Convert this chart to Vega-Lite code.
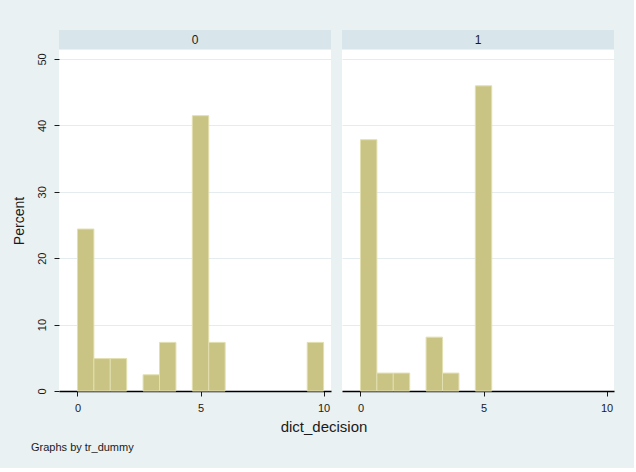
{
  "$schema": "https://vega.github.io/schema/vega-lite/v6.json",
  "background": "#e9f1f3",
  "padding": {"left": 12, "top": 30, "right": 20, "bottom": 15},
  "config": {
    "font": "Liberation Sans",
    "view": {"fill": "white", "stroke": null},
    "axis": {
      "labelFont": "Liberation Sans",
      "titleFont": "Liberation Sans",
      "labelFontSize": 11,
      "labelColor": "#1a1a1a",
      "tickColor": "#1a1a1a",
      "domainColor": "#000000",
      "gridColor": "#e4ecef",
      "titleFontWeight": "normal",
      "titleColor": "#1a1a1a"
    }
  },
  "datasets": {
    "bins": [
      {"tr_dummy": "0", "decision": 0, "bin_lo": 0, "bin_hi": 0.6667, "percent": 24.39},
      {"tr_dummy": "0", "decision": 1, "bin_lo": 0.6667, "bin_hi": 1.3333, "percent": 4.88},
      {"tr_dummy": "0", "decision": 2, "bin_lo": 1.3333, "bin_hi": 2, "percent": 4.88},
      {"tr_dummy": "0", "decision": 3, "bin_lo": 2.6667, "bin_hi": 3.3333, "percent": 2.44},
      {"tr_dummy": "0", "decision": 4, "bin_lo": 3.3333, "bin_hi": 4, "percent": 7.32},
      {"tr_dummy": "0", "decision": 5, "bin_lo": 4.6667, "bin_hi": 5.3333, "percent": 41.46},
      {"tr_dummy": "0", "decision": 6, "bin_lo": 5.3333, "bin_hi": 6, "percent": 7.32},
      {"tr_dummy": "0", "decision": 10, "bin_lo": 9.3333, "bin_hi": 10, "percent": 7.32},
      {"tr_dummy": "1", "decision": 0, "bin_lo": 0, "bin_hi": 0.6667, "percent": 37.84},
      {"tr_dummy": "1", "decision": 1, "bin_lo": 0.6667, "bin_hi": 1.3333, "percent": 2.70},
      {"tr_dummy": "1", "decision": 2, "bin_lo": 1.3333, "bin_hi": 2, "percent": 2.70},
      {"tr_dummy": "1", "decision": 3, "bin_lo": 2.6667, "bin_hi": 3.3333, "percent": 8.11},
      {"tr_dummy": "1", "decision": 4, "bin_lo": 3.3333, "bin_hi": 4, "percent": 2.70},
      {"tr_dummy": "1", "decision": 5, "bin_lo": 4.6667, "bin_hi": 5.3333, "percent": 45.95}
    ]
  },
  "title": {
    "text": "Graphs by tr_dummy",
    "orient": "bottom",
    "anchor": "start",
    "frame": "bounds",
    "font": "Liberation Sans",
    "fontSize": 11,
    "fontWeight": "normal",
    "color": "#1a1a1a",
    "dx": 19,
    "offset": 7
  },
  "vconcat": [
    {
      "title": {
        "text": "dict_decision",
        "orient": "bottom",
        "anchor": "middle",
        "frame": "bounds",
        "font": "Liberation Sans",
        "fontSize": 15,
        "fontWeight": "normal",
        "color": "#1a1a1a",
        "dx": 11,
        "offset": 7
      },
      "spacing": 11,
      "hconcat": [
        {
          "spacing": 1,
          "vconcat": [
            {
              "width": 272,
              "height": 19,
              "view": {"fill": "#d8e5ea", "stroke": null},
              "data": {"values": [{"tr_dummy": "0"}]},
              "mark": {"type": "text", "fontSize": 12, "color": "#1a1a1a"},
              "encoding": {"text": {"field": "tr_dummy"}}
            },
            {
              "width": 272,
              "height": 341,
              "data": {"name": "bins"},
              "transform": [{"filter": "datum.tr_dummy == '0'"}],
              "mark": {"type": "bar", "fill": "#c9c384", "stroke": "#e2dfb0", "strokeWidth": 1},
              "encoding": {
                "x": {
                  "field": "bin_lo", "type": "quantitative",
                  "scale": {"domain": [-0.75, 10.3], "nice": false, "zero": false},
                  "axis": {"values": [0, 5, 10], "grid": false, "tickSize": 5, "labelPadding": 6, "title": null, "domainWidth": 1.5}
                },
                "x2": {"field": "bin_hi"},
                "y": {
                  "field": "percent", "type": "quantitative",
                  "scale": {"domain": [0, 51.35], "nice": false},
                  "axis": {"values": [0, 10, 20, 30, 40, 50], "title": "Percent", "titleFontSize": 14,
                           "labelAngle": -90, "domain": false, "tickSize": 5, "labelPadding": 7, "titlePadding": 10}
                },
                "y2": {"datum": 0}
              }
            }
          ]
        },
        {
          "spacing": 1,
          "vconcat": [
            {
              "width": 272,
              "height": 19,
              "view": {"fill": "#d8e5ea", "stroke": null},
              "data": {"values": [{"tr_dummy": "1"}]},
              "mark": {"type": "text", "fontSize": 12, "color": "#1a1a1a"},
              "encoding": {"text": {"field": "tr_dummy"}}
            },
            {
              "width": 272,
              "height": 341,
              "data": {"name": "bins"},
              "transform": [{"filter": "datum.tr_dummy == '1'"}],
              "mark": {"type": "bar", "fill": "#c9c384", "stroke": "#e2dfb0", "strokeWidth": 1},
              "encoding": {
                "x": {
                  "field": "bin_lo", "type": "quantitative",
                  "scale": {"domain": [-0.75, 10.3], "nice": false, "zero": false},
                  "axis": {"values": [0, 5, 10], "grid": false, "tickSize": 5, "labelPadding": 6, "title": null, "domainWidth": 1.5}
                },
                "x2": {"field": "bin_hi"},
                "y": {
                  "field": "percent", "type": "quantitative",
                  "scale": {"domain": [0, 51.35], "nice": false},
                  "axis": {"values": [0, 10, 20, 30, 40, 50], "title": null, "labels": false, "ticks": false, "domain": false}
                },
                "y2": {"datum": 0}
              }
            }
          ]
        }
      ]
    }
  ]
}
